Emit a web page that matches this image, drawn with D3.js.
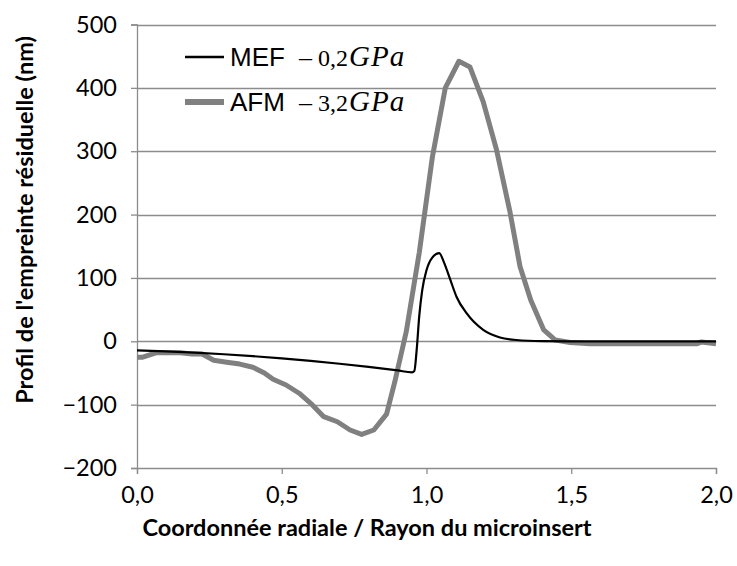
<!DOCTYPE html>
<html><head><meta charset="utf-8">
<script src="https://cdn.jsdelivr.net/npm/d3@7"></script>
<style>body{margin:0;background:#fff}svg{display:block}</style>
</head><body>
<svg id="c" width="737" height="566"></svg>
<script>
// Data
const mefX = [0.00,0.10,0.20,0.30,0.40,0.50,0.60,0.70,0.80,0.90,0.950,0.958,0.966,0.975,0.985,1.000,1.020,1.044,1.060,1.080,1.104,1.139,1.196,1.254,1.310,1.400,1.500,1.750,2.000];
const mefY = [-14.5,-16,-18,-20.5,-23.5,-27,-31,-35.5,-40.5,-46,-49,-47,-14,40,80,112,132,139,125,100,70,44,18,6,2,0.3,0,0,0];
const afmX = [0.000,0.020,0.068,0.110,0.150,0.190,0.225,0.265,0.310,0.355,0.400,0.440,0.470,0.515,0.560,0.605,0.645,0.692,0.736,0.776,0.818,0.862,0.890,0.930,0.975,1.020,1.065,1.112,1.150,1.196,1.242,1.288,1.323,1.360,1.405,1.445,1.496,1.565,1.650,1.750,1.850,1.933,1.950,2.000];
const afmY = [-25,-25,-18,-18,-18,-20,-20,-30,-33,-36,-41,-50,-60,-69,-82,-100,-119,-127,-140,-147,-140,-115,-65,15,140,290,400,442,433,378,302,205,118,65,18,2,-2,-4,-4,-4,-4,-4,-1,-4];
const yTicks = [-200,-100,0,100,200,300,400,500];
const xTicks = [0,0.5,1,1.5,2];
const seriesNames = ["MEF","AFM"];
const seriesEq = [["0,2","GPa"],["3,2","GPa"]];

const svg = d3.select("#c");
const L = 137, R = 716, T = 24.5, B = 468;
const x = d3.scaleLinear().domain([0,2]).range([L,R]);
const y = d3.scaleLinear().domain([-200,500]).range([B,T]);
const grid = "#8c8c8c";
const fmt = d => d3.format(".1f")(d).replace(".", ",");
const sans = "Lato, 'Open Sans', sans-serif";

// gridlines
svg.append("g").selectAll("line").data(yTicks.filter(d=>d!==-200)).join("line")
  .attr("x1",L).attr("x2",R).attr("y1",d=>Math.round(y(d))+0.5).attr("y2",d=>Math.round(y(d))+0.5)
  .attr("stroke",grid).attr("stroke-width",1.3);

// axes
const yAxis = svg.append("g").attr("transform",`translate(${L},0)`)
  .call(d3.axisLeft(y).tickValues(yTicks).tickSize(6).tickPadding(14));
const xAxis = svg.append("g").attr("transform",`translate(0,${B})`)
  .call(d3.axisBottom(x).tickValues(xTicks).tickSize(6).tickPadding(12).tickFormat(fmt));
[yAxis,xAxis].forEach(a=>{
  a.selectAll("path,line").attr("stroke",grid).attr("stroke-width",1.3);
  a.selectAll("text").attr("fill","#000").style("font-family",sans).style("font-size","23.5px");
});

// lines
const afm = afmX.map((v,i)=>[v,afmY[i]]);
const mef = mefX.map((v,i)=>[v,mefY[i]]);
svg.append("path").datum(afm).attr("d",d3.line().x(d=>x(d[0])).y(d=>y(d[1])).curve(d3.curveLinear)).attr("fill","none")
  .attr("stroke","#808080").attr("stroke-width",5).attr("stroke-linejoin","round");
svg.append("path").datum(mef).attr("d",d3.line().x(d=>x(d[0])).y(d=>y(d[1])).curve(d3.curveMonotoneX))
  .attr("fill","none").attr("stroke","#000").attr("stroke-width",2.2).attr("stroke-linejoin","round");

// legend
const leg = svg.append("g");
const legY = [57,102];
const legStroke = [["#000",2.5],["#808080",6]];
const serif = "'Liberation Serif', 'Times New Roman', serif";
seriesNames.forEach((n,i)=>{
  leg.append("line").attr("x1",185).attr("x2",224).attr("y1",legY[i]).attr("y2",legY[i])
    .attr("stroke",legStroke[i][0]).attr("stroke-width",legStroke[i][1]);
  const by = legY[i]+9;
  leg.append("text").attr("x",230).attr("y",by).text(n)
    .style("font-family","'Liberation Sans', Arial, sans-serif").style("font-size","26px");
  const t = leg.append("text").attr("x",299).attr("y",by).style("font-family",serif);
  t.append("tspan").text("\u2013").style("font-size","26px");
  t.append("tspan").attr("x",318).text(seriesEq[i][0]).style("font-size","24px");
  t.append("tspan").attr("x",349).text(seriesEq[i][1])
    .style("font-style","italic").style("font-size","29px").style("letter-spacing","1px");
});

// axis titles
svg.append("text").attr("x",367).attr("y",536).attr("text-anchor","middle")
  .style("font-family",sans).style("font-weight","bold").style("font-size","23.5px")
  .text("Coordonnée radiale / Rayon du microinsert");
svg.append("text").attr("transform","translate(33,220) rotate(-90)").attr("text-anchor","middle")
  .style("font-family",sans).style("font-weight","bold").style("font-size","23.5px")
  .text("Profil de l'empreinte résiduelle (nm)");
</script>
</body></html>
